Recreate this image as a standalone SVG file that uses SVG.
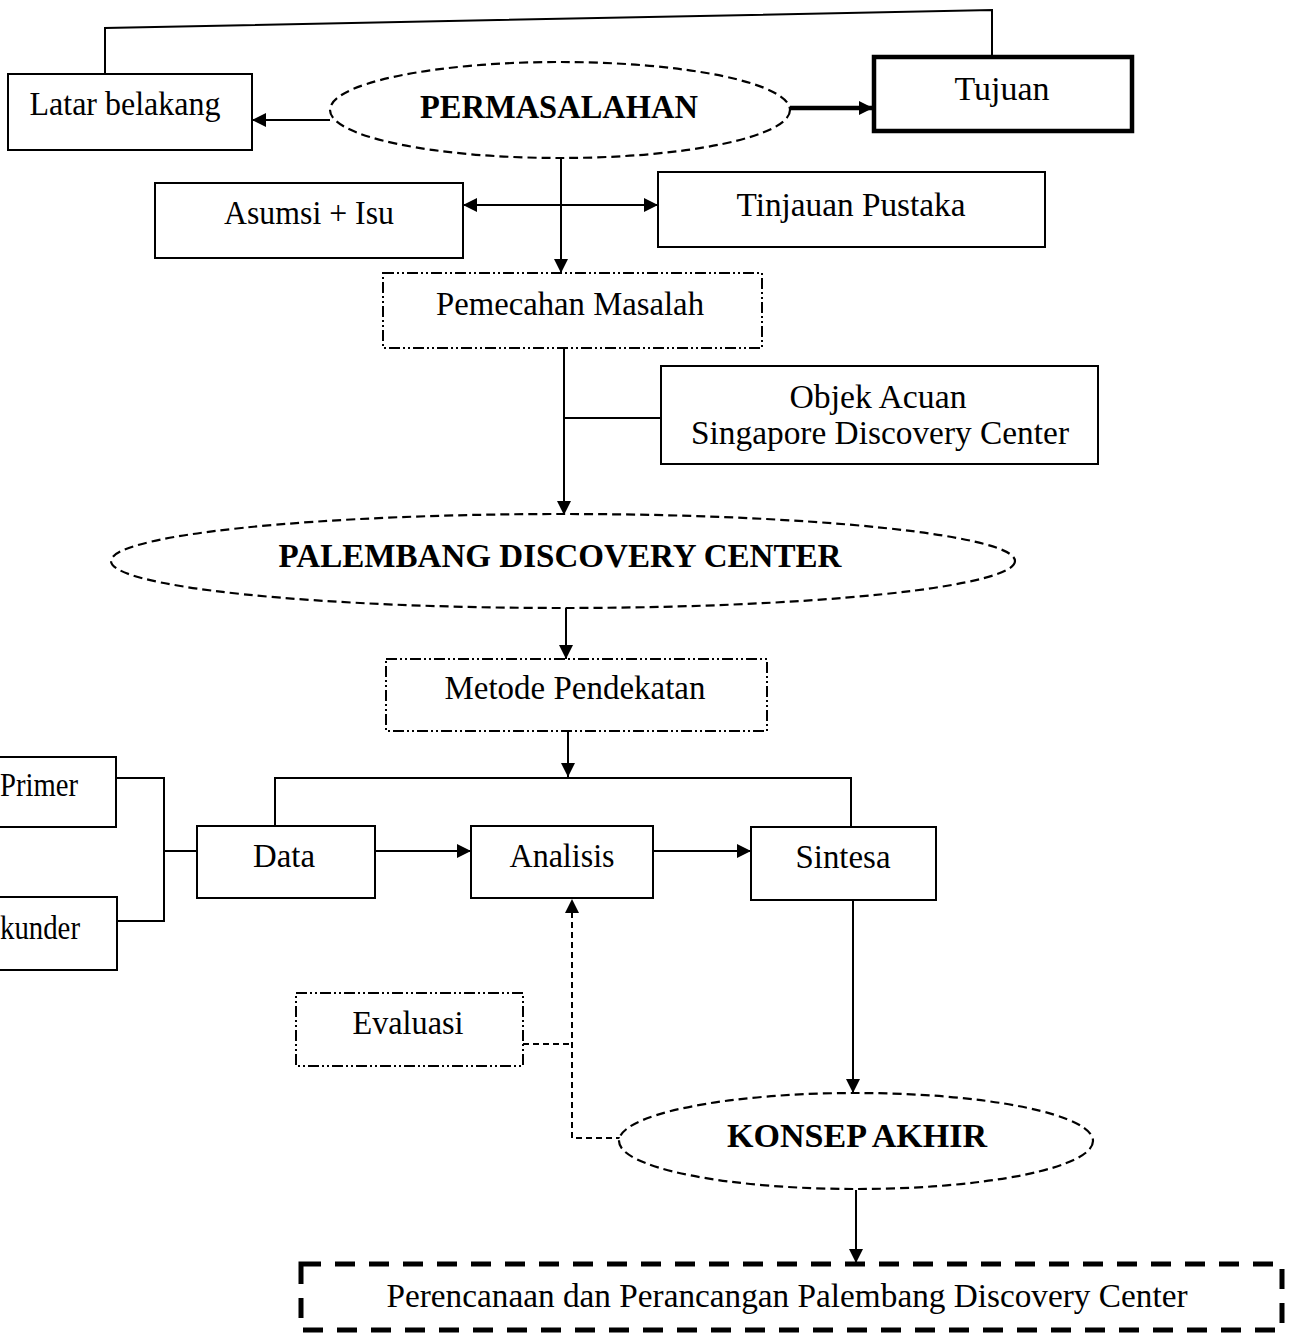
<svg xmlns="http://www.w3.org/2000/svg" width="1294" height="1340" viewBox="0 0 1294 1340">
<style>
.bg{fill:#fff}
.box{fill:#fff;stroke:#000;stroke-width:2}
.thick{fill:#fff;stroke:#000;stroke-width:4.5}
.dd{fill:#fff;stroke:#000;stroke-width:2;stroke-dasharray:11 3 2 3 2 3}
.ell{fill:#fff;stroke:#000;stroke-width:2.2;stroke-dasharray:9 5}
.big{fill:#fff;stroke:#000;stroke-width:5;stroke-dasharray:20 14}
.t{font-family:"Liberation Serif","Times New Roman",serif;font-size:33px;fill:#000;text-anchor:middle}
.b{font-weight:bold}
.c{fill:none;stroke:#000;stroke-width:2}
.cd{fill:none;stroke:#000;stroke-width:2;stroke-dasharray:6 4}
</style>
<defs>
<marker id="ah" viewBox="0 0 10 10" refX="10" refY="5" markerWidth="15" markerHeight="14" markerUnits="userSpaceOnUse" orient="auto-start-reverse">
<path d="M0,0 L10,5 L0,10 z" fill="#000"/>
</marker>
</defs>
<rect class="bg" x="0" y="0" width="1294" height="1340"/>

<g id="connectors">
<path class="c" d="M105,74 V28 L992,10 V56"/>
<path class="c" d="M330,120 H252" marker-end="url(#ah)"/>
<path class="c" d="M790,108 H873" style="stroke-width:4.5" marker-end="url(#ah)"/>
<path class="c" d="M463,205 H658" marker-start="url(#ah)" marker-end="url(#ah)"/>
<path class="c" d="M561,157 V273" marker-end="url(#ah)"/>
<path class="c" d="M564,348 V515" marker-end="url(#ah)"/>
<path class="c" d="M564,418 H661"/>
<path class="c" d="M566,607 V659" marker-end="url(#ah)"/>
<path class="c" d="M568,731 V777" marker-end="url(#ah)"/>
<path class="c" d="M275,826 V778 H851 V827"/>
<path class="c" d="M375,851 H471" marker-end="url(#ah)"/>
<path class="c" d="M653,851 H751" marker-end="url(#ah)"/>
<path class="c" d="M116,778 H164 V921 H117"/>
<path class="c" d="M164,851 H197"/>
<path class="cd" d="M523,1044 H572"/>
<path class="cd" d="M622,1138 H572 V899" marker-end="url(#ah)"/>
<path class="c" d="M853,900 V1093" marker-end="url(#ah)"/>
<path class="c" d="M856,1190 V1263" marker-end="url(#ah)"/>
</g>

<g id="latar-belakang">
<rect class="box" x="8" y="74" width="244" height="76"/>
<text class="t" x="125" y="115" textLength="191" lengthAdjust="spacingAndGlyphs">Latar belakang</text>
</g>
<g id="permasalahan">
<ellipse class="ell" cx="560" cy="110" rx="230" ry="48"/>
<text class="t b" x="559" y="118" textLength="278" lengthAdjust="spacingAndGlyphs">PERMASALAHAN</text>
</g>
<g id="tujuan">
<rect class="thick" x="874" y="57" width="258" height="74"/>
<text class="t" x="1002" y="100" textLength="95" lengthAdjust="spacingAndGlyphs">Tujuan</text>
</g>
<g id="asumsi-isu">
<rect class="box" x="155" y="183" width="308" height="75"/>
<text class="t" x="309" y="224" textLength="170" lengthAdjust="spacingAndGlyphs">Asumsi + Isu</text>
</g>
<g id="tinjauan-pustaka">
<rect class="box" x="658" y="172" width="387" height="75"/>
<text class="t" x="851" y="216" textLength="229" lengthAdjust="spacingAndGlyphs">Tinjauan Pustaka</text>
</g>
<g id="pemecahan-masalah">
<rect class="dd" x="383" y="273" width="379" height="75"/>
<text class="t" x="570" y="315" textLength="268" lengthAdjust="spacingAndGlyphs">Pemecahan Masalah</text>
</g>
<g id="objek-acuan">
<rect class="box" x="661" y="366" width="437" height="98"/>
<text class="t" x="878" y="408" textLength="177" lengthAdjust="spacingAndGlyphs">Objek Acuan</text>
<text class="t" x="880" y="444" textLength="378" lengthAdjust="spacingAndGlyphs">Singapore Discovery Center</text>
</g>
<g id="palembang-discovery-center">
<ellipse class="ell" cx="563" cy="561" rx="452" ry="47"/>
<text class="t b" x="560" y="567" textLength="563" lengthAdjust="spacingAndGlyphs">PALEMBANG DISCOVERY CENTER</text>
</g>
<g id="metode-pendekatan">
<rect class="dd" x="386" y="659" width="381" height="72"/>
<text class="t" x="575" y="699" textLength="261" lengthAdjust="spacingAndGlyphs">Metode Pendekatan</text>
</g>
<g id="primer">
<rect class="box" x="-5" y="757" width="121" height="70"/>
<text class="t" x="39" y="796" textLength="78" lengthAdjust="spacingAndGlyphs">Primer</text>
</g>
<g id="sekunder">
<rect class="box" x="-5" y="897" width="122" height="73"/>
<text class="t" x="40" y="939" textLength="80" lengthAdjust="spacingAndGlyphs">kunder</text>
</g>
<g id="data">
<rect class="box" x="197" y="826" width="178" height="72"/>
<text class="t" x="284" y="867" textLength="62" lengthAdjust="spacingAndGlyphs">Data</text>
</g>
<g id="analisis">
<rect class="box" x="471" y="826" width="182" height="72"/>
<text class="t" x="562" y="867" textLength="105" lengthAdjust="spacingAndGlyphs">Analisis</text>
</g>
<g id="sintesa">
<rect class="box" x="751" y="827" width="185" height="73"/>
<text class="t" x="843" y="868" textLength="95" lengthAdjust="spacingAndGlyphs">Sintesa</text>
</g>
<g id="evaluasi">
<rect class="dd" x="296" y="993" width="227" height="73"/>
<text class="t" x="408" y="1034" textLength="111" lengthAdjust="spacingAndGlyphs">Evaluasi</text>
</g>
<g id="konsep-akhir">
<ellipse class="ell" cx="856" cy="1141" rx="237" ry="48"/>
<text class="t b" x="857" y="1147" textLength="260" lengthAdjust="spacingAndGlyphs">KONSEP AKHIR</text>
</g>
<g id="perencanaan">
<rect class="big" x="301" y="1264" width="981" height="66"/>
<text class="t" x="787" y="1307" textLength="801" lengthAdjust="spacingAndGlyphs">Perencanaan dan Perancangan Palembang Discovery Center</text>
</g>
</svg>
